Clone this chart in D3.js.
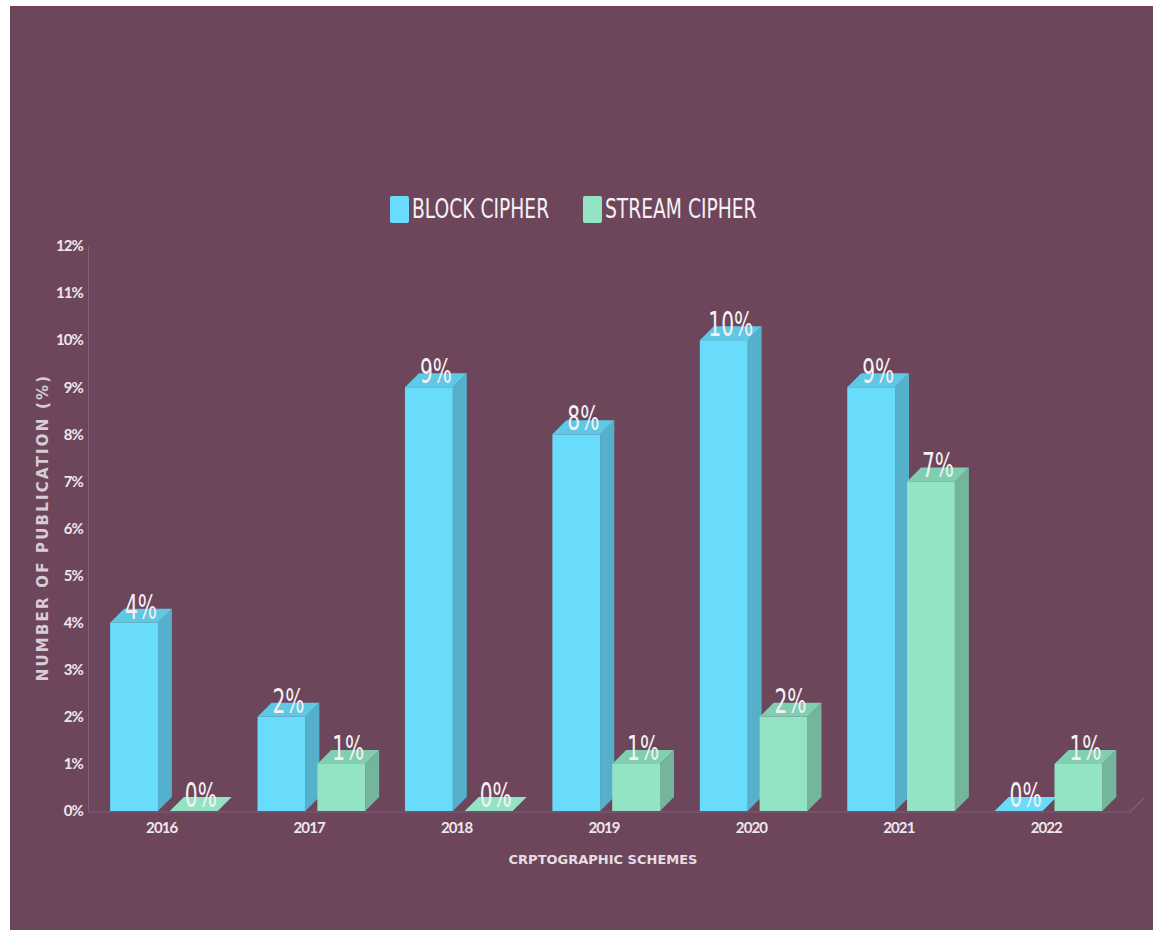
<!DOCTYPE html>
<html>
<head>
<meta charset="utf-8">
<script src="https://cdn.jsdelivr.net/npm/d3@7/dist/d3.min.js"></script>
<style>
  html, body { margin: 0; padding: 0; background: #ffffff; }
  svg { display: block; }
</style>
</head>
<body>
<svg id="chart" width="1153" height="930"></svg>
<script>
// Share of publications per year, by cryptographic scheme
const years = ["2016", "2017", "2018", "2019", "2020", "2021", "2022"];
const blockCipher = [4, 2, 9, 8, 10, 9, 0];
const streamCipher = [0, 1, 0, 1, 2, 7, 1];
const seriesNames = ["BLOCK CIPHER", "STREAM CIPHER"];
const yTicks = [0, 1, 2, 3, 4, 5, 6, 7, 8, 9, 10, 11, 12];

const colors = {
  block:  { front: "#6adcfb", side: "#55b0cb", top: "#5fc8e5" },
  stream: { front: "#93e3c5", side: "#73b69b", top: "#80cfb0" }
};

const W = 1153, H = 930;
const svg = d3.select("#chart");

// plum panel
svg.append("rect").attr("x", 10).attr("y", 6).attr("width", W - 10).attr("height", H - 6)
  .attr("fill", "#6d465c");
svg.append("rect").attr("x", 10).attr("y", 6).attr("width", W - 10).attr("height", 2)
  .attr("fill", "#7a3f57");

const plot = { left: 88, right: 1120, top: 246, bottom: 811 };
const depth = 14;

const x = d3.scaleBand().domain(years).range([plot.left, plot.right]).padding(0);
const inner = d3.scaleBand().domain(["block", "stream"])
  .range([x.bandwidth() * 0.15, x.bandwidth() * 0.88]).paddingInner(0.2).paddingOuter(0);
const y = d3.scaleLinear().domain([0, 12]).range([plot.bottom, plot.top]);

const tickFont = sel => sel
  .attr("fill", "#efe6ec")
  .style("font-family", "Lato, 'Open Sans', sans-serif")
  .style("font-weight", "700")
  .style("font-size", "15px")
  .style("letter-spacing", "-0.9px");

// y axis
const yAxis = svg.append("g").attr("transform", `translate(${plot.left},0)`)
  .call(d3.axisLeft(y).tickValues(yTicks).tickSize(0).tickPadding(5).tickFormat(d => d + "%"));
yAxis.select(".domain").attr("stroke", "#80627a").attr("stroke-width", 1);
yAxis.selectAll("text").call(tickFont);

// floor
const floorG = svg.append("g");
floorG.append("line")
  .attr("x1", plot.left).attr("x2", plot.right + 10)
  .attr("y1", plot.bottom + 1).attr("y2", plot.bottom + 1)
  .attr("stroke", "#7e5f73").attr("stroke-width", 1.2);
floorG.append("line")
  .attr("x1", plot.right + 10).attr("x2", plot.right + 10 + depth)
  .attr("y1", plot.bottom + 1).attr("y2", plot.bottom + 1 - depth)
  .attr("stroke", "#7e5f73").attr("stroke-width", 1.2);

// x axis labels
const xAxis = svg.append("g").attr("transform", `translate(0,${plot.bottom})`)
  .call(d3.axisBottom(x).tickSize(0).tickPadding(11));
xAxis.select(".domain").remove();
xAxis.selectAll("text").call(tickFont);

// 3D bars
const rows = years.map((yr, i) => [
  { year: yr, key: "block", value: blockCipher[i] },
  { year: yr, key: "stream", value: streamCipher[i] }
]).flat();

const bars = svg.append("g").selectAll("g.bar").data(rows).join("g").attr("class", "bar");
const w = inner.bandwidth();

bars.each(function(d) {
  const g = d3.select(this);
  const x0 = x(d.year) + inner(d.key);
  const yb = y(0), yt = y(d.value);
  const c = colors[d.key];
  if (d.value > 0) {
    // right side face
    g.append("path")
      .attr("d", `M${x0 + w},${yb} L${x0 + w + depth},${yb - depth} L${x0 + w + depth},${yt - depth} L${x0 + w},${yt} Z`)
      .attr("fill", c.side);
    // front face
    g.append("rect").attr("x", x0).attr("y", yt).attr("width", w).attr("height", yb - yt)
      .attr("fill", c.front);
  }
  // top face
  g.append("path")
    .attr("d", `M${x0},${yt} L${x0 + w},${yt} L${x0 + w + depth},${yt - depth} L${x0 + depth},${yt - depth} Z`)
    .attr("fill", d.value > 0 ? c.top : c.front);
});

// value labels
bars.append("text")
  .attr("transform", d => {
    const cx = x(d.year) + inner(d.key) + w / 2 + depth / 2;
    const cy = y(d.value) - 4;
    return `translate(${cx},${cy}) scale(0.68,1)`;
  })
  .attr("text-anchor", "middle")
  .attr("fill", "#f6f1f4")
  .style("font-family", "'Liberation Sans Narrow', 'DejaVu Sans Condensed', sans-serif")
  .style("font-size", "33px")
  .text(d => d.value + "%");

// axis titles
svg.append("text")
  .attr("transform", `translate(48,${(plot.top + plot.bottom) / 2 - 1}) rotate(-90)`)
  .attr("text-anchor", "middle")
  .attr("fill", "#d9ccd4")
  .style("font-family", "'DejaVu Sans', sans-serif")
  .style("font-weight", "700")
  .style("font-size", "15px")
  .style("letter-spacing", "2.2px")
  .text("NUMBER OF PUBLICATION (%)");

svg.append("text")
  .attr("x", 603).attr("y", 864)
  .attr("text-anchor", "middle")
  .attr("fill", "#e6dde3")
  .style("font-family", "'DejaVu Sans', sans-serif")
  .style("font-weight", "700")
  .style("font-size", "13px")
  .text("CRPTOGRAPHIC SCHEMES");

// legend
const legendItems = [
  { name: seriesNames[0], color: colors.block.front, x: 390 },
  { name: seriesNames[1], color: colors.stream.front, x: 583 }
];
const lg = svg.append("g").selectAll("g").data(legendItems).join("g")
  .attr("transform", d => `translate(${d.x},196)`);
lg.append("rect").attr("width", 19).attr("height", 27).attr("rx", 2).attr("fill", d => d.color);
lg.append("text")
  .attr("transform", "translate(22,22) scale(0.77,1)")
  .attr("fill", "#f6f1f4")
  .style("font-family", "'Liberation Sans Narrow', 'DejaVu Sans Condensed', sans-serif")
  .style("font-size", "27px")
  .text(d => d.name);
</script>
</body>
</html>
